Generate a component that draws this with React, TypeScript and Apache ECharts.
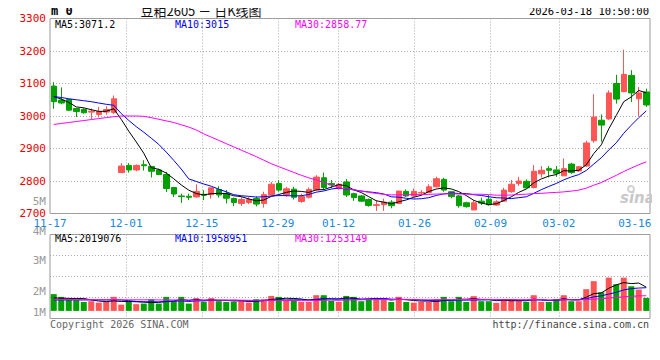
import React, { useEffect, useRef } from "react";
import * as echarts from "echarts";

const dates = ["11-17","11-18","11-19","11-20","11-21","11-24","11-25","11-26","11-27","11-28","12-01","12-02","12-03","12-04","12-05","12-08","12-09","12-10","12-11","12-12","12-15","12-16","12-17","12-18","12-19","12-22","12-23","12-24","12-25","12-26","12-29","12-30","12-31","01-05","01-06","01-07","01-08","01-09","01-12","01-13","01-14","01-15","01-16","01-19","01-20","01-21","01-22","01-23","01-26","01-27","01-28","01-29","01-30","02-02","02-03","02-04","02-05","02-06","02-09","02-10","02-11","02-12","02-13","02-24","02-25","02-26","02-27","03-02","03-03","03-04","03-05","03-06","03-09","03-10","03-11","03-12","03-13","03-16","03-17","03-18"];
const tickDates = ["11-17","12-01","12-15","12-29","01-12","01-26","02-09","03-02","03-16"];
const gridDates = ["12-01","12-15","12-29","01-12","01-26","02-09","03-02"];

const opens = [3092,3049,3051,3023,3020,3012,3005,3012,3011,2826,2848,2834,2850,2845,2834,2820,2780,2754,2753,2751,2759,2758,2774,2762,2746,2731,2734,2746,2731,2757,2792,2757,2775,2737,2750,2773,2810,2792,2777,2797,2761,2754,2743,2725,2727,2735,2731,2768,2754,2763,2765,2782,2805,2767,2754,2733,2711,2738,2744,2726,2738,2767,2792,2799,2780,2822,2838,2834,2816,2852,2831,2846,2924,2987,2991,3100,3075,3125,3053,3074];
const closes = [3044,3040,3018,3014,3010,3015,3014,3020,3053,2846,2834,2848,2847,2830,2820,2777,2760,2752,2750,2768,2756,2779,2757,2747,2734,2743,2743,2729,2758,2790,2772,2776,2750,2752,2774,2812,2780,2788,2790,2757,2749,2738,2725,2727,2735,2724,2769,2754,2768,2765,2782,2807,2772,2752,2724,2721,2733,2732,2727,2736,2772,2790,2800,2779,2830,2833,2833,2824,2838,2826,2844,2917,2997,2972,3071,3052,3128,3071,3071,3034];
const lows = [3022,3036,3015,2997,3007,2990,2996,3004,3006,2825,2826,2830,2832,2811,2818,2766,2751,2733,2741,2749,2741,2746,2749,2731,2723,2723,2729,2722,2718,2756,2767,2751,2743,2733,2746,2770,2772,2778,2774,2751,2739,2736,2721,2708,2708,2716,2729,2751,2751,2756,2764,2780,2767,2747,2718,2718,2710,2726,2724,2724,2736,2764,2785,2777,2777,2811,2811,2813,2815,2822,2828,2844,2918,2921,2988,3038,3073,3043,3000,3028];
const highs = [3104,3088,3053,3025,3024,3023,3028,3030,3063,2855,2855,2851,2864,2846,2838,2828,2782,2761,2761,2790,2772,2780,2784,2772,2749,2751,2751,2753,2767,2797,2803,2782,2782,2761,2780,2818,2826,2803,2794,2806,2764,2756,2746,2741,2746,2741,2770,2774,2777,2772,2790,2813,2810,2768,2757,2736,2741,2749,2757,2741,2779,2803,2813,2805,2849,2846,2846,2846,2869,2856,2845,2924,3067,3005,3079,3127,3204,3141,3089,3084];

// volume in millions of lots
const volumes = [1.42,1.19,0.99,0.91,0.76,0.82,0.70,0.76,1.19,0.53,0.82,0.57,0.62,0.99,0.62,1.19,0.82,1.19,0.62,1.08,0.76,1.08,0.82,0.76,0.76,0.91,0.70,0.99,0.99,1.27,1.19,0.91,0.91,0.76,0.76,1.33,1.33,0.85,0.76,1.27,1.19,0.82,0.99,1.04,0.99,0.76,1.19,0.76,0.70,0.76,0.76,0.99,1.19,0.82,1.19,0.76,1.25,0.82,0.82,0.68,0.99,0.99,0.87,0.76,1.33,0.76,0.76,0.99,1.33,0.82,0.82,1.84,2.52,1.58,2.82,2.26,2.82,2.09,1.81,1.10];

// moving-average values before enough in-window data exists
const ma5Head = [3060,3052,3042,3028];
const ma10Head = [3060,3057,3053,3050,3047,3044,3040,3036,3033];
const ma30Head = [2974,2977,2980,2983,2986,2989,2992,2995,2998,3000,3000,3000,2999,2995,2990,2985,2980,2973,2966,2957,2945,2935,2925,2915,2905,2895,2885,2875,2864];
const vma5Head = [1.10,1.08,1.06,1.05];
const vma10Head = [0.93,0.93,0.93,0.93,0.93,0.93,0.93,0.93,0.93];
const vma30Head = [0.96,0.96,0.96,0.95,0.95,0.95,0.95,0.95,0.95,0.94,0.94,0.94,0.94,0.94,0.93,0.93,0.93,0.93,0.92,0.92,0.92,0.92,0.91,0.91,0.91,0.91,0.90,0.90,0.90];

const volTickLabels = ["5M","4M","3M","2M","1M"];
const volTickY = [201, 231, 260, 291, 312];

const maText = ["MA5:3071.2","MA10:3015","MA30:2858.77"];
const vmaText = ["MA5:2019076","MA10:1958951","MA30:1253149"];

const RED = "#ff5555";
const GREEN = "#00a000";
const MONO = "DejaVu Sans Mono, Liberation Mono, monospace";

function movingAvg(src: number[], n: number, head: number[], digits: number): number[] {
  return src.map((_, i) => {
    if (i < n - 1) return head[i];
    let s = 0;
    for (let k = i - n + 1; k <= i; k++) s += src[k];
    return +(s / n).toFixed(digits);
  });
}

export default function App() {
  const ref = useRef<HTMLDivElement>(null);
  useEffect(() => {
    if (!ref.current) return;
    const chart = echarts.init(ref.current, undefined, { renderer: "svg" });
    const candles = dates.map((_, i) => [opens[i], closes[i], lows[i], highs[i]]);
    const volData = volumes.map((v, i) => ({
      value: v,
      itemStyle: { color: closes[i] >= opens[i] ? RED : GREEN },
    }));
    const ma5 = movingAvg(closes, 5, ma5Head, 2);
    const ma10 = movingAvg(closes, 10, ma10Head, 2);
    const ma30 = movingAvg(closes, 30, ma30Head, 2);
    const vma5 = movingAvg(volumes, 5, vma5Head, 3);
    const vma10 = movingAvg(volumes, 10, vma10Head, 3);
    const vma30 = movingAvg(volumes, 30, vma30Head, 3);
    const dotted = { show: true, lineStyle: { color: "#aaa", type: [1, 2], width: 1 } };
    const line = (name: string, data: number[], color: string, xi: number, yi: number) => ({
      name, type: "line", data, xAxisIndex: xi, yAxisIndex: yi, symbol: "none", showSymbol: false,
      lineStyle: { width: 1, color }, itemStyle: { color }, silent: true,
    });
    const txt = (text: string, x: number, y: number, fill: string, align = "left", extra: any = {}) => ({
      type: "text", x, y, silent: true,
      style: { text, fill, font: `10px ${MONO}`, textAlign: align, textVerticalAlign: "middle", ...extra },
    });
    const graphic: any[] = [
      txt("m 0", 51, 11, "#000", "left", { font: `bold 12px ${MONO}` }),
      txt("豆粕2605 － 日K线图", 201, 10, "#111", "center", { font: `13px "Noto Sans CJK SC", sans-serif` }),
      txt("2026-03-18 10:50:00", 649, 11, "#000", "right", { font: `10.5px ${MONO}` }),
      txt(maText[0], 55, 24, "#000"),
      txt(maText[1], 175, 24, "#0000ff"),
      txt(maText[2], 295, 24, "#ff00ff"),
      txt(vmaText[0], 55, 238.5, "#000"),
      txt(vmaText[1], 175, 238.5, "#0000ff"),
      txt(vmaText[2], 295, 238.5, "#ff00ff"),
      ...volTickLabels.map((t, i) => txt(t, 46, volTickY[i], "#999", "right", { font: `11px ${MONO}` })),
      txt("Copyright 2026 SINA.COM", 50, 324, "#666"),
      txt("http://finance.sina.com.cn", 649, 324, "#444", "right"),
      { type: "text", x: 620, y: 198, silent: true,
        style: { text: "sina", fill: "#c8c8c8", font: `italic bold 15px "DejaVu Sans", sans-serif`, textVerticalAlign: "middle" } },
      { type: "ring", shape: { cx: 631, cy: 189, r: 4, r0: 2 }, silent: true, style: { fill: "#d0d0d0" } },
    ];
    chart.setOption({
      animation: false,
      backgroundColor: "#fff",
      grid: [
        { left: 50, top: 18.5, width: 600, height: 195, show: true, borderColor: "#999", borderWidth: 1 },
        { left: 50, top: 234.5, width: 600, height: 84, show: true, borderColor: "#999", borderWidth: 1 },
      ],
      xAxis: [
        { type: "category", gridIndex: 0, data: dates, boundaryGap: true, show: false, position: "bottom" },
        {
          type: "category", gridIndex: 0, data: dates, boundaryGap: false, position: "bottom",
          axisLine: { show: false }, axisTick: { show: false },
          axisLabel: {
            interval: (_i: number, v: string) => tickDates.includes(v),
            color: "#1a88d8", fontFamily: MONO, fontSize: 11, margin: 4,
          },
          splitLine: { ...dotted, interval: (_i: number, v: string) => gridDates.includes(v) },
        },
        { type: "category", gridIndex: 1, data: dates, boundaryGap: true, show: false, position: "bottom" },
        {
          type: "category", gridIndex: 1, data: dates, boundaryGap: false, position: "bottom",
          axisLine: { show: false }, axisTick: { show: false }, axisLabel: { show: false },
          splitLine: { ...dotted, interval: (_i: number, v: string) => gridDates.includes(v) },
        },
      ],
      yAxis: [
        {
          type: "value", gridIndex: 0, min: 2700, max: 3300, interval: 100,
          axisLine: { show: false }, axisTick: { show: false },
          axisLabel: {
            color: "#ee0000", fontFamily: MONO, fontSize: 11, margin: 4, padding: [0, 0, 3, 0],
            formatter: (v: number) => String(v),
          },
          splitLine: dotted,
        },
        { type: "value", gridIndex: 1, min: -0.644, max: 6.475, show: false },
        {
          type: "value", gridIndex: 1, min: 0, max: 4, interval: 1,
          axisLine: { show: false }, axisTick: { show: false }, axisLabel: { show: false },
          splitLine: dotted,
        },
      ],
      series: [
        {
          type: "candlestick", name: "K", data: candles, xAxisIndex: 0, yAxisIndex: 0, barWidth: 6,
          itemStyle: { color: RED, color0: GREEN, borderColor: RED, borderColor0: GREEN, borderWidth: 1 },
          silent: true,
        },
        line("MA5", ma5, "#000000", 0, 0),
        line("MA10", ma10, "#0000ff", 0, 0),
        line("MA30", ma30, "#ff00ff", 0, 0),
        { type: "bar", name: "VOL", data: volData, xAxisIndex: 2, yAxisIndex: 1, barWidth: 6, silent: true },
        line("VMA5", vma5, "#000000", 2, 1),
        line("VMA10", vma10, "#0000ff", 2, 1),
        line("VMA30", vma30, "#ff00ff", 2, 1),
      ],
      graphic,
    });
    return () => chart.dispose();
  }, []);
  return <div ref={ref} style={{ width: 660, height: 360, margin: -8 }} />;
}
